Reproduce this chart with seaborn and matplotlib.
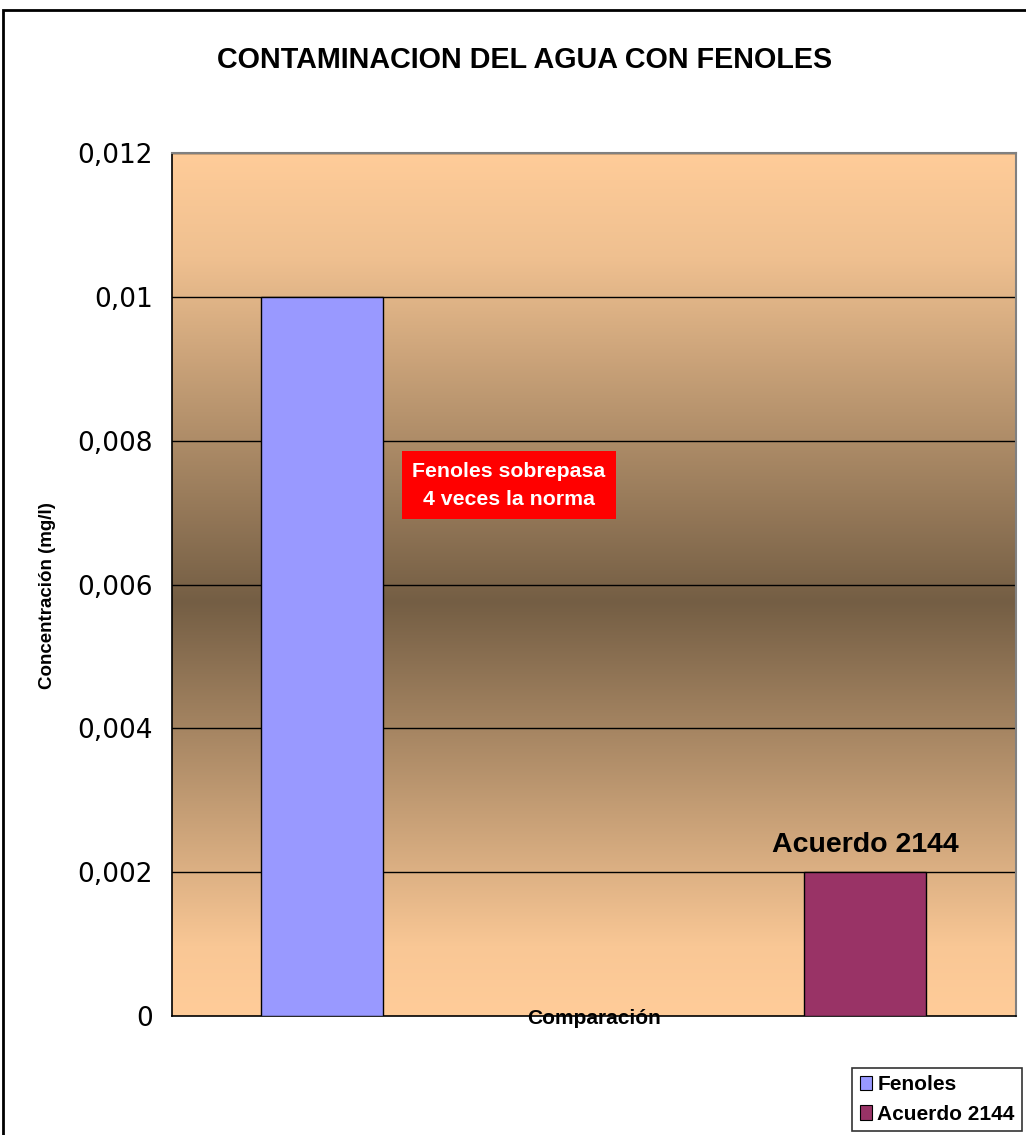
import numpy as np
import pandas as pd
import matplotlib
matplotlib.use("Agg")
import matplotlib.pyplot as plt
from matplotlib.colors import LinearSegmentedColormap
from matplotlib.patches import Rectangle
import seaborn as sns

# Data
series = ["Fenoles", "Acuerdo 2144"]
values = [0.010, 0.002]
colors = ["#9999FF", "#993366"]
yticks = [0, 0.002, 0.004, 0.006, 0.008, 0.01, 0.012]
ytick_labels = ["0", "0,002", "0,004", "0,006", "0,008", "0,01", "0,012"]

sns.set_theme(style="white")
plt.rcParams["font.family"] = ["Liberation Sans", "DejaVu Sans"]
plt.rcParams["text.color"] = "black"
plt.rcParams["ytick.labelcolor"] = "black"
plt.rcParams["xtick.labelcolor"] = "black"

df = pd.DataFrame({"Serie": series, "Valor": values})

fig = plt.figure(figsize=(10.26, 11.35), dpi=100)
ax = fig.add_axes([172 / 1026, 1 - 1016 / 1135, (1016 - 172) / 1026, (1016 - 153) / 1135])

xmin, xmax = -0.277, 1.278
ymin, ymax = 0.0, 0.012

# Plot-area gradient: peach -> brown -> peach
cmap = LinearSegmentedColormap.from_list(
    "fondo",
    [(0.0, "#FFCC99"), (0.08, "#F9C795"), (0.48, "#745E44"), (0.88, "#EFC090"), (1.0, "#FFCC99")],
)
grad = np.linspace(0, 1, 512).reshape(-1, 1)
ax.imshow(grad, cmap=cmap, aspect="auto", extent=[xmin, xmax, ymin, ymax],
          origin="lower", zorder=0, interpolation="bicubic")

# Gridlines
for t in yticks[1:]:
    ax.axhline(t, color="black", lw=1.0, zorder=1)

sns.barplot(data=df, x="Serie", y="Valor", hue="Serie", palette=colors,
            width=0.225, edgecolor="black", linewidth=1.0, saturation=1,
            legend=True, ax=ax, zorder=3)

ax.set_xlim(xmin, xmax)
ax.set_ylim(ymin, ymax)
ax.set_yticks(yticks)
ax.set_yticklabels(ytick_labels, fontsize=19, family="DejaVu Sans", color="black")
ax.set_xticks([xmin, xmax])
ax.set_xticklabels(["", ""])
ax.tick_params(axis="y", direction="out", length=8, width=1, color="black", pad=6)
ax.tick_params(axis="x", direction="out", length=8, width=1, color="black")
ax.set_xlabel("")
ax.set_ylabel("")
fig.text(48 / 1026, 1 - 596 / 1135, "Concentración (mg/l)", rotation=90,
         ha="center", va="center", fontsize=13.5, fontweight="bold", color="black")

for side in ["left", "bottom"]:
    ax.spines[side].set_color("black")
    ax.spines[side].set_linewidth(1.2)
for side in ["top", "right"]:
    ax.spines[side].set_color("#808080")
    ax.spines[side].set_linewidth(1.5)

# Category label sitting on the axis
ax.text(0.5, ymin - 0.00003, "Comparación", ha="center", va="center",
        fontsize=15, fontweight="bold", color="black", zorder=5, clip_on=False)

# Value label over the norm bar
ax.text(1, values[1] + 0.0002, "Acuerdo 2144", ha="center", va="bottom",
        fontsize=20.5, fontweight="bold", color="black", zorder=5)

# Callout
ax.text(0.344, 0.00738, "Fenoles sobrepasa\n4 veces la norma", ha="center", va="center",
        fontsize=15.3, fontweight="bold", color="white", linespacing=1.6, zorder=6,
        bbox=dict(boxstyle="square,pad=0.5", facecolor="#FF0000", edgecolor="none"))

# Legend
leg = ax.legend(loc="lower right", bbox_to_anchor=(1022 / 1026, 1 - 1131 / 1135),
                bbox_transform=fig.transFigure, frameon=True, fancybox=False,
                prop={"size": 15, "weight": "bold"}, handlelength=0.6, handleheight=0.7,
                handletextpad=0.25, borderpad=0.35, labelspacing=0.5, borderaxespad=0)
leg.get_frame().set_edgecolor("black")
leg.get_frame().set_linewidth(1.2)
for txt in leg.get_texts():
    txt.set_color("black")
for h in leg.legend_handles:
    h.set_edgecolor("black")
    h.set_linewidth(0.8)

# Title
fig.text(525 / 1026, 1 - 60 / 1135, "CONTAMINACION DEL AGUA CON FENOLES",
         ha="center", va="center", fontsize=20.7, fontweight="bold", color="black")

# Chart-area frame
fig.patches.append(Rectangle((3 / 1026, -0.01), 1.2, 1 - 10 / 1135 + 0.01,
                             transform=fig.transFigure, fill=False,
                             edgecolor="black", linewidth=2.0, zorder=10))

fig.savefig("out.png", dpi=100, facecolor="white")
